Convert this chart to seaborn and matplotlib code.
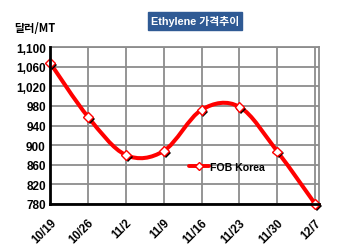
import numpy as np
import pandas as pd
import seaborn as sns
import matplotlib
matplotlib.use("Agg")
import matplotlib.pyplot as plt
from matplotlib.path import Path
from matplotlib.patches import PathPatch
from matplotlib.lines import Line2D
import matplotlib.patheffects as pe

# ---- data ----
dates = ["10/19", "10/26", "11/2", "11/9", "11/16", "11/23", "11/30", "12/7"]
fob_korea = [1068, 958, 880, 888, 972, 978, 887, 780]
y_ticks = [780, 820, 860, 900, 940, 980, 1020, 1060, 1100]
series_name = "FOB Korea"
title = "Ethylene 가격추이"
unit_label = "달러/MT"

df = pd.DataFrame({"pos": np.arange(len(dates)), "date": dates, "value": fob_korea})

sns.set_theme(style="white")
plt.rcParams["font.family"] = ["Liberation Sans", "Noto Sans CJK KR", "DejaVu Sans"]

fig = plt.figure(figsize=(3.5, 2.53), dpi=100)
ax = fig.add_axes([50 / 350, 1 - 205 / 253, 269 / 350, 157 / 253])

RED = "#FF0000"

# smooth (Excel-like) curve through the data points
xs = df["pos"].to_numpy(dtype=float)
ys = df["value"].to_numpy(dtype=float)
P = np.column_stack([xs, ys])
verts = [tuple(P[0])]
codes = [Path.MOVETO]
n = len(P)
for i in range(n - 1):
    p0 = P[i - 1] if i > 0 else P[i]
    p1 = P[i]
    p2 = P[i + 1]
    p3 = P[i + 2] if i + 2 < n else P[i + 1]
    c1 = p1 + (p2 - p0) / 6.0
    c2 = p2 - (p3 - p1) / 6.0
    verts += [tuple(c1), tuple(c2), tuple(p2)]
    codes += [Path.CURVE4] * 3
ax.add_patch(PathPatch(Path(verts, codes), facecolor="none", edgecolor=RED,
                       lw=2.9, capstyle="round", joinstyle="round", zorder=3))

# markers
sns.lineplot(data=df, x="pos", y="value", ax=ax, linestyle="none", marker="D",
             markersize=5, markerfacecolor="white", markeredgecolor=RED,
             markeredgewidth=1.0, zorder=4, clip_on=False)
ax.lines[-1].set_path_effects([
    pe.SimplePatchShadow(offset=(1.4, -1.4), shadow_rgbFace="black", alpha=1.0),
    pe.Normal()])

# axes
ax.set_xlim(0, 7.1)
ax.set_ylim(780, 1100)
ax.set_xticks(range(len(dates)))
ax.set_xticklabels(dates, rotation=45, ha="right", rotation_mode="anchor",
                   fontsize=8.3, fontweight="bold", color="black")
ax.set_yticks(y_ticks)
ax.set_yticklabels([f"{v:,}" for v in y_ticks], fontsize=8.5, fontweight="bold", color="black")
ax.set_xlabel("")
ax.set_ylabel("")
ax.grid(True, color="#8c8c8c", lw=1.3)
ax.set_axisbelow(True)
ax.tick_params(axis="both", direction="in", length=3, width=1.2, color="black", pad=3)
ax.tick_params(axis="x", pad=9)
for s in ["left", "bottom"]:
    ax.spines[s].set_color("black")
    ax.spines[s].set_linewidth(2.0)
    ax.spines[s].set_zorder(5)
for s in ["top", "right"]:
    ax.spines[s].set_color("#8c8c8c")
    ax.spines[s].set_linewidth(1.3)

# legend
handle = Line2D([], [], color=RED, lw=2.8, marker="D", markersize=4.5,
                markerfacecolor="white", markeredgecolor=RED, markeredgewidth=1.0)
leg = ax.legend([handle], [series_name], loc="center left",
                bbox_to_anchor=(0.517, 0.236), frameon=False, handlelength=1.9,
                handletextpad=0.1, borderpad=0, borderaxespad=0,
                prop={"size": 7.6, "weight": "bold"})
for t in leg.get_texts():
    t.set_color("black")

# title box and unit label
fig.text(195 / 350, 1 - 22 / 253, title, ha="center", va="center",
         fontsize=7.8, fontweight="bold", color="white",
         family=["Liberation Sans", "Noto Sans CJK KR"],
         bbox=dict(boxstyle="square,pad=0.3", facecolor="#2F5A94", edgecolor="#2F5A94"))
fig.text(14 / 350, 1 - 28 / 253, unit_label, ha="left", va="center",
         fontsize=8, fontweight="bold", color="black",
         family=["Noto Sans CJK KR", "Liberation Sans"])

fig.savefig("out.png", dpi=100, facecolor="white")
